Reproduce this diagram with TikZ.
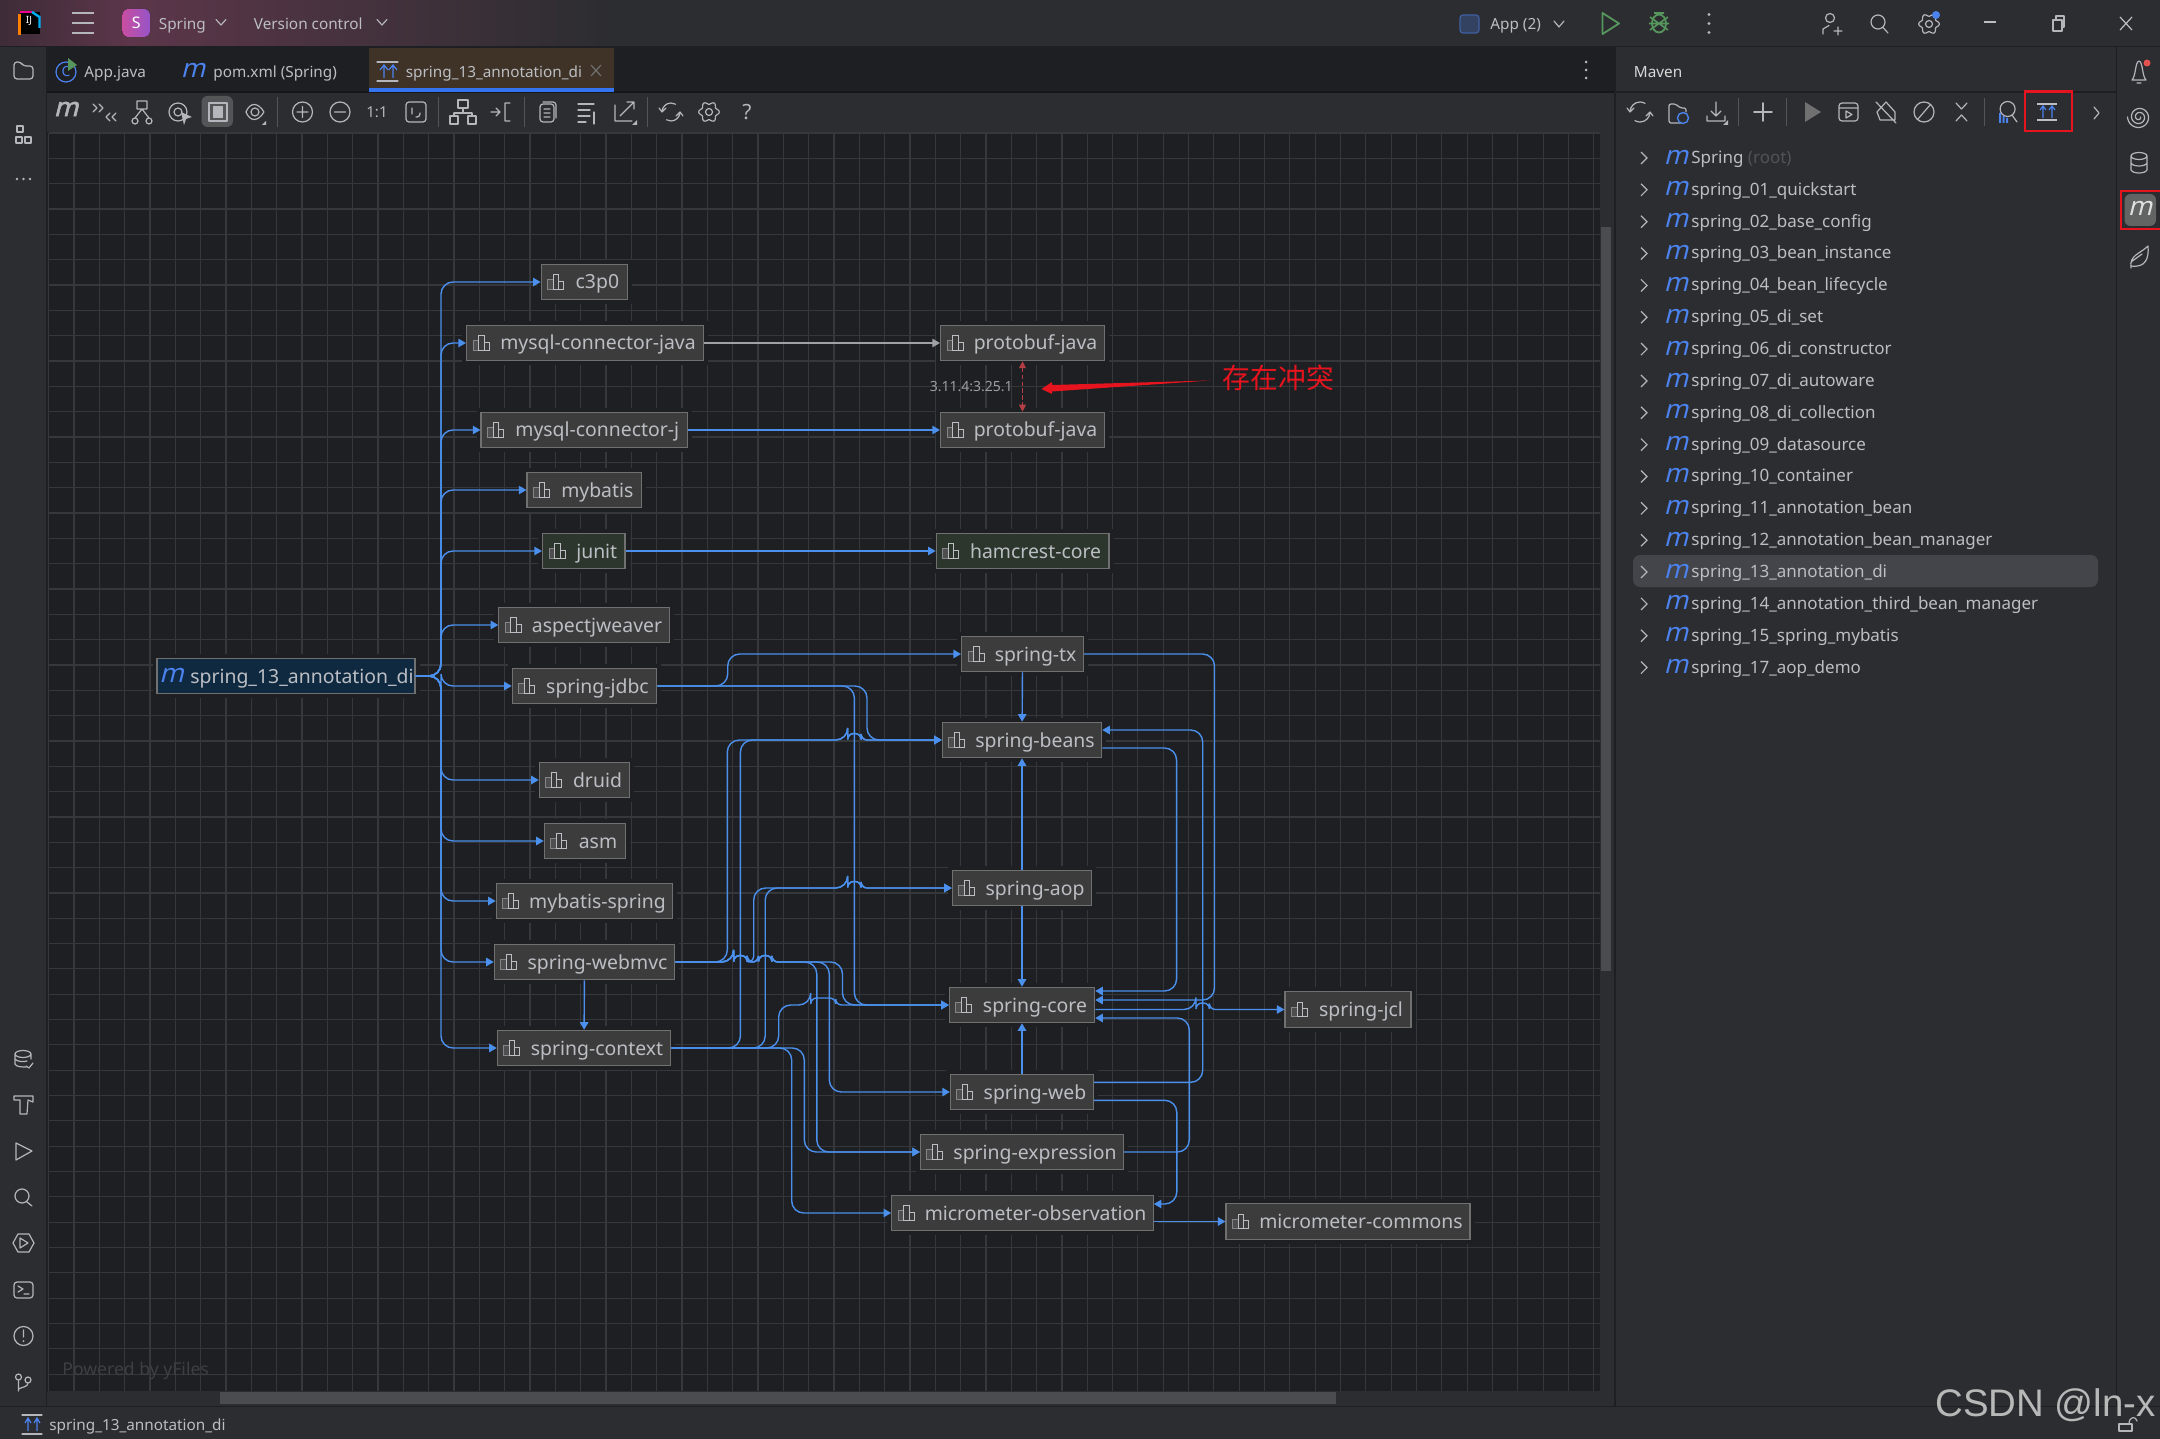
\documentclass[tikz,border=0pt]{standalone}
\usepackage{fontspec}
\setmainfont{Noto Sans}
\newfontfamily\cjk{Noto Sans CJK SC}
\newfontfamily\wmfont{Liberation Sans}
\newfontfamily\mfont[FakeSlant=0.25]{Noto Sans}
\newfontfamily\mbfont[FakeSlant=0.25,FakeBold=2]{Noto Sans}
\usetikzlibrary{arrows.meta,calc}
\definecolor{panel}{HTML}{2B2D30}
\definecolor{canvasbg}{HTML}{1E1F22}
\definecolor{gridc}{HTML}{35373B}
\definecolor{linkblue}{HTML}{4A90EC}
\definecolor{boxfill}{HTML}{3C3C3C}
\definecolor{boxline}{HTML}{707070}
\definecolor{boxtext}{HTML}{BCBEC4}
\definecolor{greenfill}{HTML}{2C362C}
\definecolor{rootfill}{HTML}{0F2A40}
\definecolor{mblue}{HTML}{4C82EE}
\definecolor{icong}{HTML}{B4B6BC}
\definecolor{rungreen}{HTML}{57965C}
\definecolor{redmark}{HTML}{E5141E}
\definecolor{sepc}{HTML}{1E1F22}
\definecolor{sbar}{HTML}{4A4C50}
\tikzset{
  libnode/.style={draw=boxline,fill=boxfill,line width=.55pt,minimum height=17.7pt,inner xsep=3.5pt,inner ysep=0pt,
    text=boxtext,font=\fontsize{9.7}{12}\selectfont,text height=8pt,text depth=1pt,
    preaction={draw=canvasbg,line width=4.5pt}},
  greennode/.style={libnode,fill=greenfill},
  rootnode/.style={libnode,fill=rootfill},
  conn/.style={draw=linkblue,line width=.7pt,rounded corners=6pt,-{Triangle[length=3.8pt,width=4.2pt]}},
  jr/.style={rounded corners=3pt},
  mr/.style={rounded corners=6pt},
  conflict/.style={draw=redmark!70!black!80!white,line width=.6pt,dash pattern=on 2.2pt off 1.2pt,
    {Triangle[length=3.5pt,width=3.4pt]}-{Triangle[length=3.5pt,width=3.4pt]}},
  ui/.style={anchor=west,inner sep=0pt,text=boxtext,font=\fontsize{7.65}{10}\selectfont,text height=6.8pt,text depth=1.6pt},
  treetext/.style={anchor=west,inner sep=0pt,text=boxtext,font=\fontsize{8.5}{10}\selectfont,text height=7pt,text depth=1.6pt},
  mglyph/.style={anchor=center,inner sep=0pt,text=mblue,font=\fontsize{13}{13}\mfont},
  ic/.style={draw=icong,line width=.6pt,line cap=round,line join=round},
  redbox/.style={draw=redmark,line width=1.1pt},
  libicon/.pic={
    \draw[draw=boxtext!70!black,line width=.45pt,fill=boxline!70!black] (0,-2.5) rectangle (5.5,7);
    \draw[draw=boxtext,line width=.45pt] (5.5,-7.5) rectangle (11,7);
    \draw[draw=boxtext,line width=.45pt] (11,-1) rectangle (16,7);
  },
  gearicon/.pic={
    \draw[ic] plot[domain=0:360,samples=73,smooth] ({(9+1.3*cos(6*\x))*cos(\x)},{(9+1.3*cos(6*\x))*sin(\x)});
    \draw[ic] (0,0) circle (3.5);
  }
}
\begin{document}
\begin{tikzpicture}[x=.5pt,y=-.5pt]
\useasboundingbox (0,0) rectangle (2160,1439);
\clip (0,0) rectangle (2160,1439);
% --- panels
\fill[panel] (0,0) rectangle (2160,1439);
\shade[left color={rgb,255:red,92;green,54;blue,74},right color=panel] (130,0) rectangle (620,46);
\shade[left color={rgb,255:red,62;green,44;blue,56},right color={rgb,255:red,92;green,54;blue,74}] (0,0) rectangle (130,46);
\draw[sepc,line width=.5pt] (0,46.5) -- (2160,46.5);
\fill[canvasbg] (47,47) rectangle (1614,92);
\fill[panel] (47,93) rectangle (1614,131);
\draw[sepc!70!black,line width=.6pt] (47,92) -- (1614,92);
\fill[canvasbg] (47,132) rectangle (1612,1392);
\draw[sepc,line width=.6pt] (46.5,47) -- (46.5,1406);
\draw[sepc,line width=.6pt] (1615,47) -- (1615,1406);
\draw[sepc,line width=.6pt] (1615,92) -- (2116,92);
\draw[sepc,line width=.6pt] (2116.5,47) -- (2116.5,1406);
\draw[sepc,line width=.6pt] (0,1406.5) -- (2160,1406.5);
% grid
\foreach \k [evaluate=\k as \gx using 48.7+25.33*\k] in {0,...,61}
  \draw[gridc,line width=.6pt] (\gx,133) -- (\gx,1391);
\foreach \k [evaluate=\k as \gy using 133+25.33*\k] in {0,...,49}
  \draw[gridc,line width=.6pt] (48.7,\gy) -- (1600,\gy);
% scrollbars
\fill[panel] (1600,132) rectangle (1614,1392);
\fill[panel] (48,1391) rectangle (1614,1405);
\fill[sbar] (1600.5,227) rectangle (1611,971);
\fill[sbar] (220,1391.5) rectangle (1336,1404);
% active tab
\fill[fill={rgb,255:red,62;green,51;blue,38}] (369,48) rectangle (614,91);
\fill[fill={rgb,255:red,53;green,116;blue,240}] (369,88) rectangle (614,92.5);
% toolbar selected
\fill[fill=boxline!60!panel,rounded corners=3pt] (201.5,96) rectangle (233,127);
% tree selection
\fill[fill={rgb,255:red,67;green,69;blue,74},rounded corners=3.5pt] (1633,555) rectangle (2098,587);
% --- title bar content
\fill[fill=black] (19.5,12) rectangle (39.5,34);
\draw[draw=orange,line width=1.2pt] (19.5,35) -- (19.5,14);
\draw[draw=magenta,line width=1.2pt] (19.5,12) -- (32,12);
\draw[draw=cyan,line width=1.2pt] (32,12) -- (39.5,17) -- (39.5,28);
\node[inner sep=0pt,text=white,font=\bfseries\fontsize{5}{5}\selectfont] (ijlogo) at (29,21) {IJ};
\foreach \yy in {13,23,33} \draw[draw=icong,line width=1.1pt] (71.5,\yy) -- (93.5,\yy);
\fill[left color={rgb,255:red,200;green,78;blue,160},right color={rgb,255:red,150;green,84;blue,200},rounded corners=3pt] (122.4,9) rectangle (150,37);
\node[inner sep=0pt,text=white,font=\fontsize{8}{10}\selectfont] (sbadge) at (136.2,23) {S};
\node[ui] (tprj) at (158.5,24.5) {Spring};
\draw[ic] (216,19.5) -- (221,25) -- (226,19.5);
\node[ui] (tvcs) at (253.5,24.5) {Version control};
\draw[ic] (377,19.5) -- (382,25) -- (387,19.5);
% run config
\draw[draw=mblue!60!panel,fill=mblue!25!panel,line width=.6pt,rounded corners=1.5pt] (1460,15) rectangle (1479,33);
\node[ui] (tapp) at (1490,24.5) {App (2)};
\draw[ic] (1554,21) -- (1559,27) -- (1564,21);
\draw[draw=rungreen,line width=.9pt,line join=round] (1602.5,13) -- (1619,23.5) -- (1602.5,34) -- cycle;
\draw[draw=rungreen,line width=.9pt] (1659,23.5) ellipse (7 and 9);
\draw[draw=rungreen,line width=.8pt] (1650,17) -- (1668,30) (1668,17) -- (1650,30) (1649,23.5) -- (1669,23.5) (1654,13) -- (1664,13);
\fill[icong] (1709,14.5) circle (1.7) (1709,23.5) circle (1.7) (1709,32.5) circle (1.7);
\draw[ic] (1830,18) circle (4.5) (1823,34) -- (1823,29) -- (1829,25.5) (1834,31) -- (1842,31) (1838,27) -- (1838,35);
\draw[ic] (1878,22) circle (7) (1883,27.5) -- (1888,33);
\pic at (1929,24) {gearicon};
\fill[fill=mblue] (1936,15) circle (4);
\draw[draw=boxtext,line width=.7pt] (1984,22) -- (1996,22);
\draw[ic] (2053,20) rectangle (2062,31) (2056,20) -- (2056,16) -- (2064,16) -- (2064,27) -- (2062,27);
\draw[draw=boxtext,line width=.6pt] (2120,17) -- (2132,30) (2132,17) -- (2120,30);
% --- tabs
\draw[draw=mblue,line width=.6pt] (66,72) circle (10);
\node[inner sep=0pt,text=mblue,font=\fontsize{7}{8}\selectfont] (tabc) at (66,72) {C};
\fill[fill=rungreen] (68,58) -- (77,65) -- (68,71) -- cycle;
\node[ui] (tab1) at (84,72.5) {App.java};
\node[mglyph] (tab2m) at (193,70) {m};
\node[ui] (tab2) at (213,72.5) {pom.xml (Spring)};
\draw[ic] (377,62) -- (398,62) (377,81) -- (398,81);
\draw[draw=mblue,line width=.6pt] (384,78) -- (384,66) (380,70) -- (384,65) -- (388,70) (393,78) -- (393,66) (389,70) -- (393,65) -- (397,70);
\node[ui] (tab3) at (405.5,72.5) {spring\_13\_annotation\_di};
\draw[draw=boxline,line width=.6pt] (591,65) -- (601,76) (601,65) -- (591,76);
\fill[icong] (1586,62) circle (1.5) (1586,70) circle (1.5) (1586,78) circle (1.5);
\node[ui,text=white!85!black,font=\bfseries\fontsize{7.65}{10}\selectfont] (maventitle) at (1633.5,72.5) {Maven};
% --- diagram toolbar
\node[inner sep=0pt,text=icong,font=\fontsize{13}{13}\mbfont] (dm) at (66,109) {m};
\draw[ic] (93,104) -- (97,108) -- (93,112) (99,104) -- (103,108) -- (99,112) (110,113) -- (106,117) -- (110,121) (116,113) -- (112,117) -- (116,121);
\draw[ic] (137,101) rectangle (147,109) (142,109) -- (135,118) (142,109) -- (149,118) (135,121) circle (3) (149,121) circle (3);
\draw[ic] (178,112) circle (9) (178,112) circle (4); \fill[fill=icong] (181,112) -- (192,117) -- (186,119) -- (184,125) -- cycle;
\draw[ic] (209,103) rectangle (227,121); \fill[fill=icong] (213,106) rectangle (223,118);
\draw[ic] (246,112) .. controls (250,102) and (258,102) .. (264,112) .. controls (258,122) and (250,122) .. (246,112) (255,112) circle (4); \fill[fill=icong] (262,125) -- (266,125) -- (266,121) -- cycle;
\draw[ic] (302.5,112) circle (10) (297,112) -- (308,112) (302.5,106.5) -- (302.5,117.5);
\draw[ic] (340,112) circle (10) (334.5,112) -- (345.5,112);
\node[inner sep=0pt,text=icong,font=\bfseries\fontsize{7.5}{9}\selectfont] (oneone) at (377,112) {1:1};
\draw[ic,rounded corners=1.5pt] (406,102) rectangle (426,122) (412,108) -- (412,114) (416,117) -- (420,117) -- (420,113);
\draw[ic] (458,100) rectangle (468,108) (463,108) -- (463,113) (454,113) -- (472,113) (454,113) -- (454,116) (472,113) -- (472,116) (450,116) rectangle (458,124) (468,116) rectangle (476,124);
\draw[ic] (491,112) -- (500,112) (496,108) -- (500,112) -- (496,116) (510,103) -- (505,103) -- (505,121) -- (510,121);
\draw[ic,rounded corners=1.5pt] (540,104) rectangle (554,122) (544,109) -- (550,109) (544,113) -- (550,113) (544,117) -- (550,117) (543,102) -- (556,102) -- (556,118);
\draw[ic] (578,104) -- (594,104) (578,110) -- (590,110) (578,116) -- (590,116) (578,122) -- (586,122) (594,112) -- (594,124);
\draw[ic] (615,105) -- (615,121) -- (632,121) (620,116) -- (634,102) (627,102) -- (634,102) -- (634,109); \fill[fill=icong] (632,125) -- (637,125) -- (637,120) -- cycle;
\draw[ic] (662,112) arc (180:300:9) (680,112) arc (0:120:9) (659,108) -- (662,112) -- (666,108) (676,116) -- (680,112) -- (683,116);
\pic at (709,112) {gearicon};
\node[inner sep=0pt,text=icong,font=\fontsize{10.5}{12}\selectfont] (helpq) at (747,112) {?};
\foreach \sx in {277.5,438,524.5,647.5} \draw[draw=boxline!60!panel,line width=.5pt] (\sx,97) -- (\sx,127);
% --- maven toolbar
\draw[ic] (1630,112) arc (180:300:10) (1650,112) arc (0:120:10) (1627,108) -- (1630,112) -- (1634,108) (1646,116) -- (1650,112) -- (1653,116);
\draw[ic,rounded corners=1pt] (1681,123) -- (1669,123) -- (1669,104) -- (1676,104) -- (1680,108) -- (1686,108) -- (1686,112);
\draw[draw=mblue,line width=.7pt] (1683,118) circle (5.5);
\draw[ic] (1716,102) -- (1716,116) (1711,111) -- (1716,116) -- (1721,111) (1707,116) -- (1707,121) -- (1725,121) -- (1725,116); \fill[fill=icong] (1723,125) -- (1728,125) -- (1728,120) -- cycle;
\draw[ic,line width=.9pt] (1763,103) -- (1763,121) (1754,112) -- (1772,112);
\fill[fill=boxline] (1805,102) -- (1821,112) -- (1805,122) -- cycle;
\draw[ic,rounded corners=1.5pt] (1839,103) rectangle (1858,121) (1839,108) -- (1858,108); \draw[ic] (1846,111) -- (1846,118) -- (1852,114.5) -- cycle;
\draw[ic] (1877,112) -- (1886,102) -- (1895,112) -- (1895,120) -- (1880,120) -- cycle (1876,102) -- (1896,123);
\draw[ic] (1924,112) circle (10) (1918,119) -- (1930,105);
\draw[ic] (1956,103) -- (1961.5,109) -- (1967,103) (1956,121) -- (1961.5,115) -- (1967,121);
\draw[ic] (2007.6,109) circle (7.5) (2012,115) -- (2017,122);
\fill[fill=mblue] (1999,113) rectangle (2001,123) (2002.5,116) rectangle (2004.5,123) (2006,118) rectangle (2008,123);
\draw[draw=boxtext,line width=.6pt] (2037,104) -- (2057,104) (2037,120) -- (2057,120);
\draw[draw=mblue,line width=.6pt] (2043,118) -- (2043,107) (2040,110) -- (2043,106) -- (2046,110) (2052,118) -- (2052,107) (2049,110) -- (2052,106) -- (2055,110);
\draw[ic] (2094,107) -- (2099,113) -- (2094,119);
\foreach \sx in {1738,1786.5,1984.5} \draw[draw=boxline!60!panel,line width=.5pt] (\sx,98) -- (\sx,126);
\draw[redbox] (2025,91.5) rectangle (2072,131);
% --- left strip
\draw[ic,rounded corners=1.5pt] (14,62) -- (14,79) -- (33,79) -- (33,66) -- (23,66) -- (21,62) -- cycle;
\draw[ic] (17,126) rectangle (23,132) (16,137) rectangle (22,143) (25,137) rectangle (31,143);
\fill[icong] (17,179) circle (1.4) (23.5,179) circle (1.4) (30,179) circle (1.4);
\draw[ic] (23,1054) ellipse (8 and 3.5) (15,1054) -- (15,1064) .. controls (16,1067) and (22,1067) .. (26,1067) (31,1054) -- (31,1059) (15,1059) .. controls (17,1062) and (25,1062) .. (27,1061) (26,1066) -- (29,1068) -- (33,1063);
\draw[ic] (14,1096) -- (33,1096) -- (33,1102) -- (28,1100) -- (27,1114) -- (20,1114) -- (20,1100) -- (14,1100) -- cycle;
\draw[ic] (16,1143) -- (32,1151) -- (16,1160) -- cycle;
\draw[ic] (22,1196) circle (7) (27,1202) -- (32,1206);
\draw[ic] (13,1243) -- (18,1234) -- (29,1234) -- (34,1243) -- (29,1252) -- (18,1252) -- cycle (20,1238) -- (20,1248) -- (28,1243) -- cycle;
\draw[ic,rounded corners=1.5pt] (14,1282) rectangle (33,1298); \draw[ic] (18,1286) -- (23,1289) -- (18,1292) (24,1294) -- (29,1294);
\draw[ic] (23.5,1336) circle (9.5) (23.5,1330) -- (23.5,1337); \fill[fill=icong] (23.5,1341) circle (1);
\draw[ic] (18.5,1377) circle (3) (28,1380) circle (3) (18.5,1380) -- (18.5,1391) (28,1383) .. controls (28,1387) and (22,1387) .. (18.5,1389);
% --- right strip
\draw[ic] (2132,80) .. controls (2136,76) and (2135,62) .. (2139,61) .. controls (2143,62) and (2142,76) .. (2146,80) -- cycle (2137,83) -- (2141,83);
\fill[fill={rgb,255:red,226;green,80;blue,80}] (2147,63) circle (3.5);
\draw[ic] plot[domain=0:900,samples=80,smooth] ({2139+(1.5+\x/90)*cos(\x)},{117+(1.5+\x/90)*sin(\x)});
\draw[ic] (2139,156) ellipse (8 and 3.5) (2131,156) -- (2131,170) (2147,156) -- (2147,170) (2131,170) .. controls (2133,174) and (2145,174) .. (2147,170) (2131,163) .. controls (2133,167) and (2145,167) .. (2147,163);
\fill[fill=boxline!80!panel,rounded corners=3pt] (2124.5,194) rectangle (2156,226);
\node[inner sep=0pt,text=white!88!black,font=\fontsize{13}{13}\mfont] (stripm) at (2140,208) {m};
\draw[redbox] (2121,191) rectangle (2161,229);
\draw[ic] (2131,268) .. controls (2129,255) and (2140,254) .. (2148,246) .. controls (2149,258) and (2146,268) .. (2131,266) (2131,262) -- (2142,254);
% --- bottom
\node[inner sep=0pt,anchor=west,text=boxline!40!canvasbg,font=\fontsize{8.8}{10}\selectfont] (yfiles) at (62,1371) {Powered by yFiles};
\draw[ic] (22,1415) -- (42,1415) (22,1434) -- (42,1434);
\draw[draw=mblue,line width=.6pt] (28,1431) -- (28,1419) (25,1423) -- (28,1418) -- (31,1423) (37,1431) -- (37,1419) (34,1423) -- (37,1418) -- (40,1423);
\node[ui] (status) at (49,1425.5) {spring\_13\_annotation\_di};
% --- tree
\node[mglyph] (m0) at (1676,157) {m};
\draw[draw=icong,line width=.6pt] (1641,152) -- (1647,158) -- (1641,164);
\node[treetext] (t0) at (1691,158) {Spring \textcolor{boxline!120!white}{(root)}};
\foreach \t [count=\i, evaluate=\i as \yy using 158+31.85*\i] in {spring\_01\_quickstart,spring\_02\_base\_config,spring\_03\_bean\_instance,spring\_04\_bean\_lifecycle,spring\_05\_di\_set,spring\_06\_di\_constructor,spring\_07\_di\_autoware,spring\_08\_di\_collection,spring\_09\_datasource,spring\_10\_container,spring\_11\_annotation\_bean,spring\_12\_annotation\_bean\_manager,spring\_13\_annotation\_di,spring\_14\_annotation\_third\_bean\_manager,spring\_15\_spring\_mybatis,spring\_17\_aop\_demo}{
  \node[mglyph] (m\i) at (1676,\yy-1) {m};
  \draw[draw=icong,line width=.6pt] (1641,\yy-6) -- (1647,\yy) -- (1641,\yy+6);
  \node[treetext] (t\i) at (1691,\yy) {\t};
}
% --- dependency nodes
\def\gap{\hspace*{13pt}}
\node[libnode,minimum width=43.2pt] (c3p0) at (584.4,282) {\gap c3p0};
\node[libnode,minimum width=118.5pt] (mcjava) at (585,343) {\gap mysql-connector-java};
\node[libnode,minimum width=103.3pt] (mcj) at (584.3,430) {\gap mysql-connector-j};
\node[libnode,minimum width=57.35pt] (mybatis) at (584.35,490) {\gap mybatis};
\node[greennode,minimum width=41.25pt] (junit) at (583.75,551) {\gap junit};
\node[libnode,minimum width=84.7pt] (aspect) at (584,625) {\gap aspectjweaver};
\node[libnode,minimum width=72.2pt] (jdbc) at (584.5,686) {\gap spring-jdbc};
\node[libnode,minimum width=45.2pt] (druid) at (584.5,780) {\gap druid};
\node[libnode,minimum width=40.7pt] (asm) at (585,841) {\gap asm};
\node[libnode,minimum width=88.2pt] (mybatisspring) at (584.5,901) {\gap mybatis-spring};
\node[libnode,minimum width=90.2pt] (webmvc) at (584.5,962) {\gap spring-webmvc};
\node[libnode,minimum width=86.7pt] (context) at (584,1048) {\gap spring-context};
\node[libnode,minimum width=82pt] (protoa) at (1022.5,343) {\gap protobuf-java};
\node[libnode,minimum width=82pt] (protob) at (1022.5,430) {\gap protobuf-java};
\node[greennode,minimum width=86.4pt] (hamcrest) at (1022.6,551) {\gap hamcrest-core};
\node[libnode,minimum width=61pt] (tx) at (1022.6,654) {\gap spring-tx};
\node[libnode,minimum width=79.6pt] (beans) at (1022,740) {\gap spring-beans};
\node[libnode,minimum width=69.65pt] (aop) at (1022,888) {\gap spring-aop};
\node[libnode,minimum width=72.7pt] (core) at (1022,1005) {\gap spring-core};
\node[libnode,minimum width=71.6pt] (web) at (1022,1092) {\gap spring-web};
\node[libnode,minimum width=100.55pt] (expr) at (1022,1152) {\gap spring-expression};
\node[libnode,minimum width=128.8pt] (obs) at (1022.5,1213) {\gap micrometer-observation};
\node[libnode,minimum width=122pt] (commons) at (1348,1221.5) {\gap micrometer-commons};
\node[libnode,minimum width=63pt] (jcl) at (1348,1009.5) {\gap spring-jcl};
\node[rootnode,minimum width=129pt,inner xsep=0pt] (root) at (286,676) {\hspace*{16pt}spring\_13\_annotation\_di};
\node[mglyph] (rootm) at (171.5,675) {m};
\foreach \n in {c3p0,mcjava,mcj,mybatis,junit,aspect,jdbc,druid,asm,mybatisspring,webmvc,context,protoa,protob,hamcrest,tx,beans,aop,core,web,expr,obs,commons,jcl}
  \pic at ($(\n.west)+(7,0)$) {libicon};
% --- connectors from the root
\foreach \n/\yy in {c3p0/282,mcjava/343,mcj/430,mybatis/490,junit/551,aspect/625,jdbc/686,druid/780,asm/841,mybatisspring/901,webmvc/962,context/1048}
  \draw[conn] (root.east) -- (441,676) -- (441,\yy) -- (\n.west);
% --- straight ones
\draw[conn,draw=boxtext!85!black,line width=.75pt] (mcjava) -- (protoa);
\draw[conn] (mcj) -- (protob);
\draw[conn] (junit) -- (hamcrest);
\draw[conn] (webmvc) -- (context);
\draw[conn] (tx) -- (beans);
\draw[conn] (aop) -- (beans);
\draw[conn] (aop) -- (core);
\draw[conn] (web) -- (core);
\draw[conflict] (protoa) -- (protob);
\node[inner sep=0pt,text=boxtext!80!canvasbg,font=\fontsize{7}{8}\selectfont,anchor=east] (conflictlabel) at (1013,387) {3.11.4:3.25.1};
% --- spring-jdbc
\draw[conn] (jdbc.east) -- (727.7,686) -- (727.7,654) -- (tx.west);
\draw[conn] (jdbc.east) -- (854.4,686) -- (854.4,1005) -- (core.west);
\draw[conn] (jdbc.east) -- (867,686) -- (867,740) -- (beans.west);
% --- spring-webmvc
\draw[conn] (webmvc.east) -- (727.3,962) -- (727.3,740) -- (847.7,740) [jr] -- ++(0,-6.5) -- ++(13.4,0) -- ++(0,6.5) [mr] -- (beans.west);
\draw[conn] (webmvc.east) -- (733.7,962) [jr] -- ++(0,-6.5) -- ++(13.4,0) -- ++(0,6.5) -- (753.7,962) [mr] -- (753.7,888) -- (847.7,888) [jr] -- ++(0,-6.5) -- ++(13.4,0) -- ++(0,6.5) [mr] -- (aop.west);
\draw[conn] (webmvc.east) -- (733.7,962) [jr] -- ++(0,-6.5) -- ++(13.4,0) -- ++(0,6.5) -- (758.5,962) -- ++(0,-6.5) -- ++(13.4,0) -- ++(0,6.5) [mr] -- (842.5,962) -- (842.5,1005) -- (core.west);
\draw[conn] (webmvc.east) -- (733.7,962) [jr] -- ++(0,-6.5) -- ++(13.4,0) -- ++(0,6.5) -- (758.5,962) -- ++(0,-6.5) -- ++(13.4,0) -- ++(0,6.5) [mr] -- (829.3,962) -- (829.3,1092) -- (web.west);
\draw[conn] (webmvc.east) -- (733.7,962) [jr] -- ++(0,-6.5) -- ++(13.4,0) -- ++(0,6.5) -- (758.5,962) -- ++(0,-6.5) -- ++(13.4,0) -- ++(0,6.5) [mr] -- (816.8,962) -- (816.8,1152) -- (expr.west);
% --- spring-context
\draw[conn] (context.east) -- (740.4,1048) -- (740.4,740) -- (847.7,740) [jr] -- ++(0,-6.5) -- ++(13.4,0) -- ++(0,6.5) [mr] -- (beans.west);
\draw[conn] (context.east) -- (765.2,1048) -- (765.2,888) -- (847.7,888) [jr] -- ++(0,-6.5) -- ++(13.4,0) -- ++(0,6.5) [mr] -- (aop.west);
\draw[conn] (context.east) -- (778.7,1048) -- (778.7,1005) -- (810.7,1005) [jr] -- ++(0,-7) -- ++(25,0) -- ++(0,7) [mr] -- (core.west);
\draw[conn] (context.east) -- (804.3,1048) -- (804.3,1152) -- (expr.west);
\draw[conn] (context.east) -- (791.7,1048) -- (791.7,1213) -- (obs.west);
% --- right side
\draw[conn] (tx.east) -- (1214.5,654) -- (1214.5,1000) -- ($(core.east)+(0,-5)$);
\draw[conn] ($(beans.east)+(0,8)$) -- (1176.6,748) -- (1176.6,991) -- ($(core.east)+(0,-14)$);
\draw[conn] ($(web.east)+(0,-9.7)$) -- (1202.7,1082.3) -- (1202.7,730) -- ($(beans.east)+(0,-10)$);
\draw[conn] (expr.east) -- (1189.3,1152) -- (1189.3,1018) -- ($(core.east)+(0,13)$);
\draw[conn] ($(web.east)+(0,8.3)$) -- (1176.8,1100.3) -- (1176.8,1204) -- ($(obs.east)+(0,-9)$);
\draw[conn] ($(core.east)+(0,4.5)$) -- (1196,1009.5) [jr] -- ++(0,-6.5) -- ++(13.4,0) -- ++(0,6.5) [mr] -- (jcl.west);
\draw[conn] ($(obs.east)+(0,8.5)$) -- (commons.west);
% --- annotation
\fill[fill=redmark] (1210,380.5) -- (1052,385) -- (1052,382) -- (1041.5,389) -- (1052,394) -- (1052,391.5) -- cycle;
\node[inner sep=0pt,text=redmark,font=\fontsize{13.9}{15}\cjk] (note) at (1278.5,378) {存在冲突};
% --- watermark
\node[inner sep=0pt,anchor=east,text=white!72!black,font=\fontsize{19.2}{22}\wmfont] (watermark) at (2156,1405) {CSDN @ln-x};
\draw[ic] (2119,1424) rectangle (2132,1431);
\draw[ic] (2129,1424) .. controls (2129,1416) and (2136,1416) .. (2137,1421);
\end{tikzpicture}
\end{document}
